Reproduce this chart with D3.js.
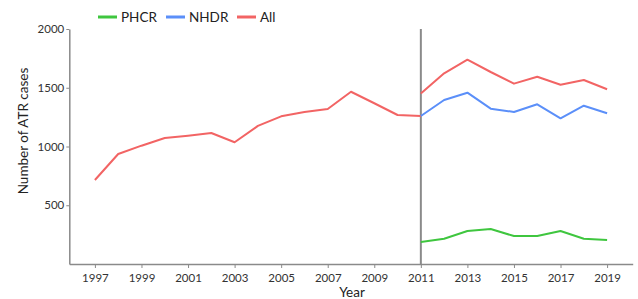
<!DOCTYPE html>
<html>
<head>
<meta charset="utf-8">
<script src="https://cdn.jsdelivr.net/npm/d3@7"></script>
<style>
  body { margin: 0; background: #fff; }
  svg { display: block; font-family: Lato, "Open Sans", sans-serif; }
</style>
</head>
<body>
<svg id="chart" width="638" height="299"></svg>
<script>
const yearsPre = [1997,1998,1999,2000,2001,2002,2003,2004,2005,2006,2007,2008,2009,2010,2011];
const allPre   = [715,936,1007,1072,1092,1115,1036,1175,1257,1294,1319,1466,1368,1268,1260];
const yearsPost = [2011,2012,2013,2014,2015,2016,2017,2018,2019];
const phcr  = [187,215,281,298,238,238,281,215,204];
const nhdr  = [1260,1396,1458,1322,1294,1359,1240,1347,1283];
const allPost = [1452,1623,1739,1634,1535,1594,1526,1566,1487];
const xTicks = [1997,1999,2001,2003,2005,2007,2009,2011,2013,2015,2017,2019];
const yTicks = [500,1000,1500,2000];
const seriesNames = ["PHCR","NHDR","All"];
const colors = {PHCR:"#3fc63f", NHDR:"#5b8ff9", All:"#f26464"};
const splitYear = 2011;

const svg = d3.select("#chart");
const x = d3.scaleLinear().domain([1995.9, 2020.1]).range([69.3, 632.7]);
const y = d3.scaleLinear().domain([0, 2000]).range([264, 29]);
const axisColor = "#8a8a8a";

// X axis
const gx = svg.append("g").attr("transform", "translate(0,264)")
  .call(d3.axisBottom(x).tickValues(xTicks).tickFormat(d3.format("d")).tickSize(4).tickSizeOuter(0));
gx.select(".domain").attr("stroke", axisColor).attr("stroke-width", 1.5);
gx.selectAll(".tick line").attr("stroke", axisColor);
gx.selectAll(".tick text").attr("font-family","Lato, sans-serif").attr("font-size", 11.5).attr("fill","#333").attr("dy","0.95em");

// Y axis
const gy = svg.append("g").attr("transform", "translate(69.3,0)")
  .call(d3.axisLeft(y).tickValues(yTicks).tickFormat(d3.format("d")).tickSize(3).tickSizeOuter(0));
gy.select(".domain").attr("stroke", axisColor).attr("stroke-width", 1.5);
gy.selectAll(".tick line").attr("stroke", axisColor);
gy.selectAll(".tick text").attr("font-family","Lato, sans-serif").attr("font-size", 11.5).attr("fill","#333").attr("x", -5);

// split line
svg.append("line")
  .attr("x1", x(splitYear)).attr("x2", x(splitYear))
  .attr("y1", y(2000)).attr("y2", y(0))
  .attr("stroke", "#8a8a8a").attr("stroke-width", 2);

const line = d3.line().x(d => x(d[0])).y(d => y(d[1]));
function drawLine(xs, vs, color) {
  svg.append("path")
    .datum(xs.map((yr, i) => [yr, vs[i]]))
    .attr("d", line)
    .attr("fill", "none")
    .attr("stroke", color)
    .attr("stroke-width", 2)
    .attr("stroke-linejoin", "round");
}
drawLine(yearsPre, allPre, colors.All);
drawLine(yearsPost, nhdr, colors.NHDR);
drawLine(yearsPost, allPost, colors.All);
drawLine(yearsPost, phcr, colors.PHCR);

// Axis titles
svg.append("text").attr("x", 352).attr("y", 297)
  .attr("text-anchor", "middle").attr("font-size", 13.5).attr("fill", "#222").text("Year");
svg.append("text")
  .attr("transform", "translate(28,131) rotate(-90)")
  .attr("text-anchor", "middle").attr("font-size", 13.5).attr("fill", "#222").text("Number of ATR cases");

// Legend
const legendX = [98, 166, 237];
const lg = svg.append("g");
seriesNames.forEach((name, i) => {
  lg.append("line").attr("x1", legendX[i]).attr("x2", legendX[i] + 19)
    .attr("y1", 17).attr("y2", 17).attr("stroke", colors[name]).attr("stroke-width", 3);
  lg.append("text").attr("x", legendX[i] + 23).attr("y", 17).attr("dy", "0.35em")
    .attr("font-size", 13.5).attr("fill", "#222").text(name);
});
</script>
</body>
</html>
